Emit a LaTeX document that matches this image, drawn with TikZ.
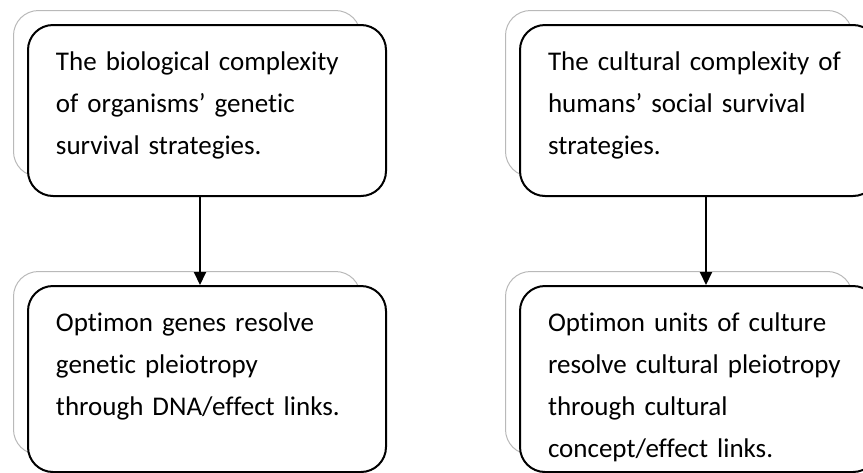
\documentclass[tikz,border=0pt]{standalone}
\usepackage{fontspec}
\setmainfont[Ligatures={TeX,NoCommon}]{Carlito}
\usetikzlibrary{arrows.meta,positioning,backgrounds}

\begin{document}
\begin{tikzpicture}[
    x=1pt, y=1pt,
    font=\fontsize{27}{42}\selectfont,
    node distance=88pt,
    card/.style={draw, rounded corners=25pt, fill=white, line width=2pt, text width=302pt, align=left, inner xsep=28pt, inner ysep=25pt, text height=20pt},
    toprow/.style={card, text depth=101pt},
    botrow/.style={card, text depth=116pt},
    sheet/.style={draw=gray!55, rounded corners=25pt, line width=1pt, anchor=north west, minimum width=347pt},
    link/.style={-{Triangle[length=13pt, width=12pt]}, line width=2pt}
]
\useasboundingbox (0,0) rectangle (863,-472);

\node[toprow, anchor=north west] (bio) at (27,-24) {The biological complexity\\ of organisms' genetic\\ survival strategies.};
\node[botrow, below=of bio] (gene) {Optimon genes resolve\\ genetic pleiotropy\\ through DNA/effect links.};
\node[toprow, right=132pt of bio] (cult) {The cultural complexity of\\ humans' social survival\\ strategies.};
\node[botrow, below=of cult] (unit) {Optimon units of culture\\ resolve cultural pleiotropy\\ through cultural\\ concept/effect links.};

% stacked sheets behind each box
\begin{scope}[on background layer]
\node[sheet, minimum height=166pt] (bioback) at ([shift={(-14,14)}]bio.north west) {};
\node[sheet, minimum height=183pt] (geneback) at ([shift={(-14,14)}]gene.north west) {};
\node[sheet, minimum height=166pt] (cultback) at ([shift={(-14,14)}]cult.north west) {};
\node[sheet, minimum height=183pt] (unitback) at ([shift={(-14,14)}]unit.north west) {};
\end{scope}

\draw[link] ([xshift=-7pt]bio.south) -- ([xshift=-7pt]gene.north);
\draw[link] ([xshift=7pt]cult.south) -- ([xshift=7pt]unit.north);
\end{tikzpicture}
\end{document}
